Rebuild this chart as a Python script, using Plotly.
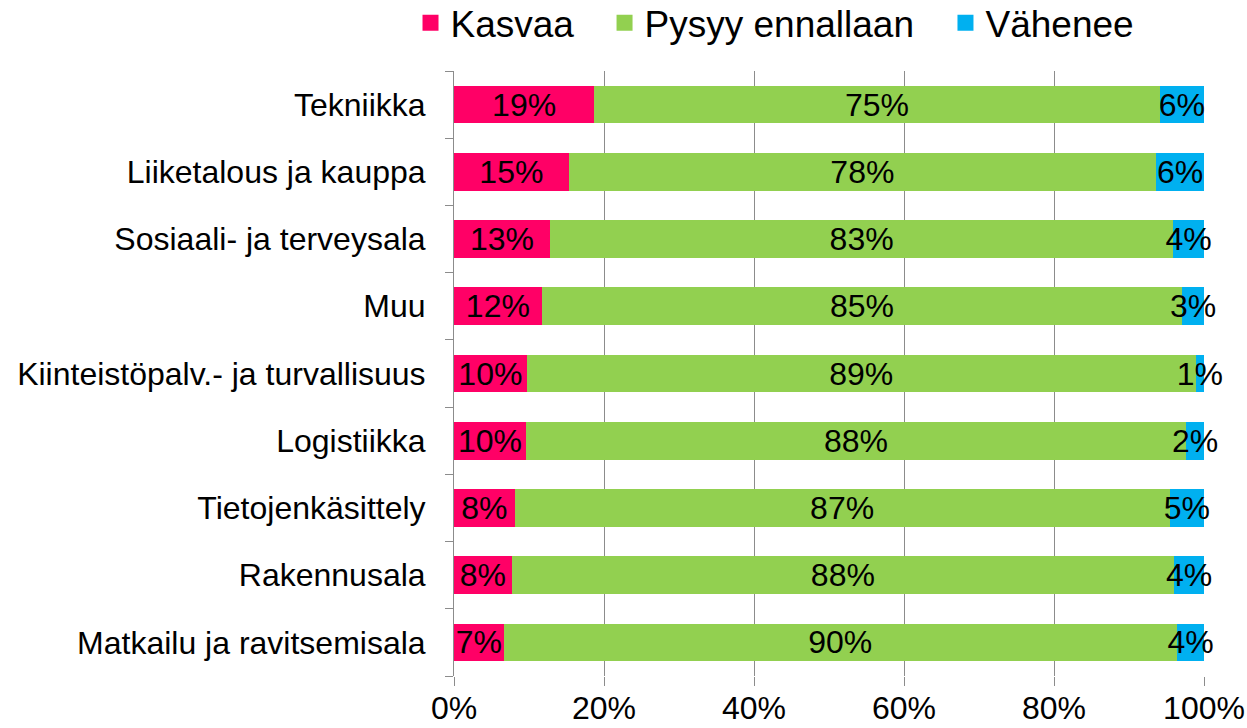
import plotly.graph_objects as go

categories = ["Tekniikka", "Liiketalous ja kauppa", "Sosiaali- ja terveysala", "Muu",
              "Kiinteistöpalv.- ja turvallisuus", "Logistiikka", "Tietojenkäsittely",
              "Rakennusala", "Matkailu ja ravitsemisala"]
kasvaa = [18.7, 15.3, 12.8, 11.7, 9.7, 9.6, 8.1, 7.7, 6.6]
pysyy = [75.4, 78.3, 83.1, 85.4, 89.2, 88.0, 87.3, 88.3, 89.8]
vahenee = [5.9, 6.4, 4.1, 2.9, 1.1, 2.4, 4.6, 4.0, 3.6]
series_names = ["Kasvaa", "Pysyy ennallaan", "Vähenee"]
colors = ["#FF0066", "#92D050", "#00B0F0"]
x_ticks = [0, 20, 40, 60, 80, 100]
x_ticklabels = ["0%", "20%", "40%", "60%", "80%", "100%"]

FONT = "Liberation Sans, Arial, sans-serif"
legend_ids = ["legend", "legend2", "legend3"]
legend_x = [0.3292, 0.4848, 0.7582]

fig = go.Figure()
for name, vals, col in zip(series_names, [kasvaa, pysyy, vahenee], colors):
    fig.add_trace(go.Bar(
        y=categories, x=vals, orientation="h", name=name,
        marker=dict(color=col, line=dict(width=0)),
        text=[f"{v:.0f}%" for v in vals], textposition="inside",
        insidetextanchor="middle", textangle=0,
        textfont=dict(color="black", size=32, family=FONT),
        cliponaxis=False, showlegend=False, hoverinfo="skip"))
for name, col, lid in zip(series_names, colors, legend_ids):
    fig.add_trace(go.Scatter(
        y=[None], x=[None], mode="markers", name=name, legend=lid,
        marker=dict(symbol="square", size=16, color=col), showlegend=True))

legend_common = dict(orientation="h", xref="container", xanchor="left", yref="container",
                     y=0.968, yanchor="middle", font=dict(size=37, family=FONT),
                     bgcolor="rgba(0,0,0,0)", itemclick=False)

fig.update_layout(
    barmode="stack", bargap=0.44,
    width=1247, height=728,
    margin=dict(l=454, r=43, t=71, b=52, autoexpand=False),
    paper_bgcolor="white", plot_bgcolor="white",
    font=dict(family=FONT, size=32, color="black"),
    uniformtext=dict(minsize=32, mode="show"),
    legend=dict(x=legend_x[0], **legend_common),
    legend2=dict(x=legend_x[1], **legend_common),
    legend3=dict(x=legend_x[2], **legend_common),
    xaxis=dict(range=[0, 100.0001], tickvals=x_ticks, ticktext=x_ticklabels,
               showgrid=True, gridcolor="#8C8C8C", gridwidth=1, automargin=False,
               ticks="outside", ticklen=9, tickcolor="#8C8C8C", showline=False,
               zeroline=False, tickfont=dict(size=32), ticklabelstandoff=-5),
    yaxis=dict(categoryorder="array", categoryarray=categories[::-1], automargin=False,
               showline=True, linecolor="#8C8C8C", linewidth=1,
               ticks="outside", tickson="boundaries", ticklen=8, tickcolor="#8C8C8C",
               tickfont=dict(size=32), ticklabelstandoff=21, showgrid=False),
)
fig.write_html("out.html")
